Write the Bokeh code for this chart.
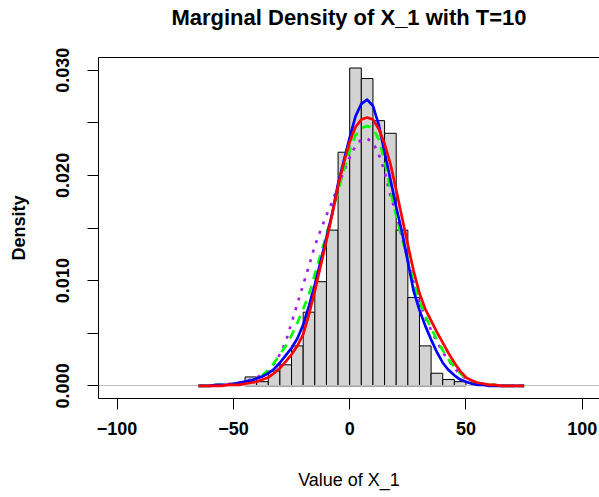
import numpy as np
from bokeh.plotting import figure
from bokeh.models import FixedTicker, NumeralTickFormatter, LinearAxis, Range1d
from bokeh.embed import file_html
from bokeh.resources import INLINE

# ---- data ----
bin_left = [-45, -40, -35, -30, -25, -20, -15, -10, -5, 0, 5, 10, 15, 20, 25, 30, 35, 40, 45]
bin_width = 5
bin_density = [0.00085, 0.0004, 0.0014, 0.0020, 0.0038, 0.0070, 0.0099, 0.0148, 0.0222,
               0.0302, 0.0292, 0.0252, 0.0240, 0.0148, 0.0084, 0.0038, 0.0012, 0.0006, 0.0004]

curve_x = [-65, -62.5, -60, -57.5, -55, -52.5, -50, -47.5, -45, -42.5, -40, -37.5, -35, -32.5,
           -30, -27.5, -25, -22.5, -20, -17.5, -15, -12.5, -10, -7.5, -5, -2.5, 0, 2.5, 5, 7.5,
           10, 12.5, 15, 17.5, 20, 22.5, 25, 27.5, 30, 32.5, 35, 37.5, 40, 42.5, 45, 47.5, 50,
           52.5, 55, 57.5, 60, 62.5, 65, 67.5, 70, 72.5, 75]

purple_dens = [0.0000, 0.0000, 0.0000, 0.0001, 0.0001, 0.0002, 0.0002, 0.0003, 0.0004, 0.0006,
               0.0008, 0.0011, 0.0014, 0.0021, 0.0030, 0.0042, 0.0060, 0.0078, 0.0096, 0.0114,
               0.0133, 0.0148, 0.0162, 0.0175, 0.0190, 0.0204, 0.0217, 0.0228, 0.0234, 0.0235,
               0.0231, 0.0220, 0.0204, 0.0181, 0.0164, 0.0141, 0.0120, 0.0098, 0.0080, 0.0065,
               0.0053, 0.0042, 0.0032, 0.0024, 0.0017, 0.0011, 0.0007, 0.0004, 0.0003, 0.0002,
               0.0001, 0.0001, 0.0000, 0.0000, 0.0000, 0.0000, 0.0000]

green_dens = [0.0000, 0.0000, 0.0000, 0.0001, 0.0001, 0.0001, 0.0002, 0.0002, 0.0003, 0.0005,
              0.0007, 0.0010, 0.0015, 0.0022, 0.0030, 0.0038, 0.0048, 0.0060, 0.0073, 0.0087,
              0.0106, 0.0125, 0.0143, 0.0164, 0.0185, 0.0205, 0.0224, 0.0238, 0.0245, 0.0247,
              0.0245, 0.0234, 0.0214, 0.0186, 0.0161, 0.0140, 0.0120, 0.0098, 0.0080, 0.0066,
              0.0055, 0.0044, 0.0034, 0.0025, 0.0018, 0.0012, 0.0007, 0.0004, 0.0003, 0.0002,
              0.0001, 0.0001, 0.0000, 0.0000, 0.0000, 0.0000, 0.0000]

blue_dens = [0.0000, 0.0000, 0.0000, 0.0001, 0.0001, 0.0001, 0.0002, 0.0003, 0.0004, 0.0005,
             0.0007, 0.0009, 0.0012, 0.0016, 0.0022, 0.0029, 0.0036, 0.0045, 0.0058, 0.0076,
             0.0096, 0.0118, 0.0141, 0.0164, 0.0192, 0.0214, 0.0236, 0.0256, 0.0268, 0.0272,
             0.0266, 0.0248, 0.0222, 0.0196, 0.0170, 0.0146, 0.0118, 0.0090, 0.0072, 0.0057,
             0.0044, 0.0032, 0.0022, 0.0015, 0.0010, 0.0006, 0.0004, 0.0002, 0.0001, 0.0001,
             0.0000, 0.0000, 0.0000, 0.0000, 0.0000, 0.0000, 0.0000]

red_dens = [0.0000, 0.0000, 0.0000, 0.0000, 0.0000, 0.0001, 0.0001, 0.0001, 0.0002, 0.0003,
            0.0004, 0.0006, 0.0008, 0.0012, 0.0017, 0.0023, 0.0030, 0.0038, 0.0049, 0.0068,
            0.0090, 0.0114, 0.0138, 0.0163, 0.0190, 0.0212, 0.0232, 0.0246, 0.0253, 0.0255,
            0.0253, 0.0244, 0.0230, 0.0211, 0.0186, 0.0160, 0.0134, 0.0109, 0.0088, 0.0073,
            0.0062, 0.0051, 0.0041, 0.0031, 0.0022, 0.0014, 0.0008, 0.0005, 0.0003, 0.0002,
            0.0001, 0.0001, 0.0000, 0.0000, 0.0000, 0.0000, 0.0000]

x_ticks = [-100, -50, 0, 50, 100]
x_tick_labels = ["\u2212100", "\u221250", "0", "50", "100"]
y_ticks = [0.0, 0.01, 0.02, 0.03]
y_minor_ticks = [0.005, 0.015, 0.025]

title_text = "Marginal Density of X_1 with T=10"
x_label = "Value of X_1"
y_label = "Density"

FONT = "Liberation Sans"

p = figure(width=599, height=497, output_backend="svg", toolbar_location=None,
           x_range=Range1d(-108, 107.4), y_range=Range1d(-0.0012, 0.0312),
           min_border_left=98, min_border_right=0, min_border_top=57, min_border_bottom=99,
           x_axis_location=None, y_axis_location=None)
p.outline_line_color = None
p.xgrid.visible = False
p.ygrid.visible = False
p.background_fill_color = "white"
p.border_fill_color = "white"

# histogram
left = np.array(bin_left, dtype=float)
p.quad(left=left, right=left + bin_width, bottom=0, top=bin_density,
       fill_color="#D3D3D3", line_color="black", line_width=1)

# baseline
p.hspan(y=[0], line_color="#BEBEBE", line_width=1)

# curves
p.line(curve_x, purple_dens, line_color="#A020F0", line_width=2.7, line_dash="3 7")
p.line(curve_x, green_dens, line_color="#00FF00", line_width=2.7, line_dash="9 7")
p.line(curve_x, blue_dens, line_color="#0000FF", line_width=2.7, line_join="round")
p.line(curve_x, red_dens, line_color="#FF0000", line_width=2.7, line_join="round")

# axes
xa = LinearAxis(ticker=FixedTicker(ticks=x_ticks),
                major_label_overrides={t: l for t, l in zip(x_ticks, x_tick_labels)})
xa.axis_label = x_label
ya = LinearAxis(ticker=FixedTicker(ticks=y_ticks, minor_ticks=y_minor_ticks),
                formatter=NumeralTickFormatter(format="0.000"))
ya.axis_label = y_label

# top border carrying the title as its label
ta = LinearAxis(ticker=FixedTicker(ticks=[]), major_label_text_font_size="0px")
ta.major_tick_line_color = None
ta.minor_tick_line_color = None
ta.axis_line_color = "black"
ta.axis_label = title_text
ta.axis_label_text_font = FONT
ta.axis_label_text_font_size = "22px"
ta.axis_label_text_font_style = "bold"
ta.axis_label_text_color = "black"
ta.axis_label_standoff = 28

for ax in (xa, ya):
    ax.axis_line_color = "black"
    ax.major_tick_line_color = "black"
    ax.major_tick_in = 0
    ax.major_tick_out = 11
    ax.minor_tick_in = 0
    ax.minor_tick_out = 11
    ax.minor_tick_line_color = "black"
    ax.major_label_text_font = FONT
    ax.major_label_text_font_size = "18px"
    ax.major_label_text_font_style = "bold"
    ax.major_label_text_color = "black"
    ax.axis_label_text_font = FONT
    ax.axis_label_text_font_size = "18px"
    ax.axis_label_text_color = "black"

xa.minor_tick_line_color = None
xa.major_label_standoff = 12
xa.axis_label_standoff = 32
xa.axis_label_text_font_style = "normal"
ya.major_label_orientation = "vertical"
ya.major_label_standoff = 18
ya.axis_label_standoff = 25
ya.axis_label_text_font_style = "bold"

p.add_layout(xa, "below")
p.add_layout(ya, "left")
p.add_layout(ta, "above")

open("out.html", "w").write(file_html(p, INLINE))
